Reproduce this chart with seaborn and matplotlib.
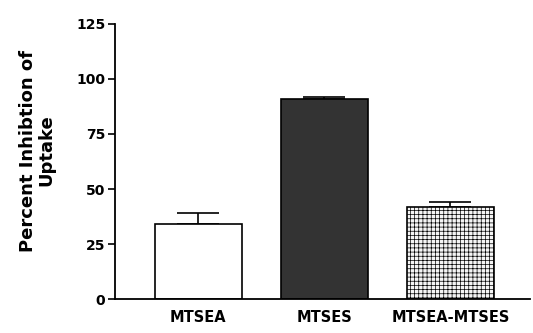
import matplotlib
matplotlib.use("Agg")
import matplotlib.pyplot as plt
import seaborn as sns
import pandas as pd

categories = ["MTSEA", "MTSES", "MTSEA-MTSES"]
values = [34, 91, 42]
errors = [5, 1, 2]
yticks = [0, 25, 50, 75, 100, 125]

sns.set_theme(style="ticks")
plt.rcParams['font.family'] = ['DejaVu Sans']
plt.rcParams['hatch.color'] = '#b5b5b5'
plt.rcParams['hatch.linewidth'] = 0.5
plt.rcParams['text.color'] = 'black'
plt.rcParams['axes.labelcolor'] = 'black'
plt.rcParams['xtick.color'] = 'black'
plt.rcParams['ytick.color'] = 'black'

df = pd.DataFrame({"cond": categories, "val": values})

fig = plt.figure(figsize=(5.33, 3.33), dpi=100)
ax = fig.add_axes([0.216, 0.102, 0.778, 0.826])

sns.barplot(data=df, x="cond", y="val", hue="cond", legend=False,
            palette=["#ffffff", "#333333", "#f4f4f4"], width=0.69,
            edgecolor="black", linewidth=1.2, ax=ax, errorbar=None, zorder=2)
ax.patches[2].set_hatch("++++")

ax.errorbar(range(len(categories)), values, yerr=[[0] * 3, errors], fmt="none",
            ecolor="black", elinewidth=1.2, capsize=15, capthick=1.2, zorder=1)

ax.set_ylim(0, 125)
ax.set_xlim(-0.66, 2.63)
ax.set_yticks(yticks)
ax.set_yticklabels([str(t) for t in yticks], fontweight="bold", fontsize=10)
ax.tick_params(axis="y", length=5, width=1.2, pad=2, colors="black")
ax.tick_params(axis="x", length=0, pad=8, colors="black")
for lab in ax.get_xticklabels():
    lab.set_fontweight("bold")
    lab.set_fontsize(10.5)
ax.set_xlabel("")
ax.set_ylabel("Percent Inhibtion of\nUptake", fontweight="bold", fontsize=13,
              linespacing=1.0, color="black")
ax.yaxis.set_label_coords(-0.145, 0.54)
for s in ["top", "right"]:
    ax.spines[s].set_visible(False)
for s in ["left", "bottom"]:
    ax.spines[s].set_linewidth(1.3)
    ax.spines[s].set_color("black")

fig.savefig("out.png", dpi=100)
